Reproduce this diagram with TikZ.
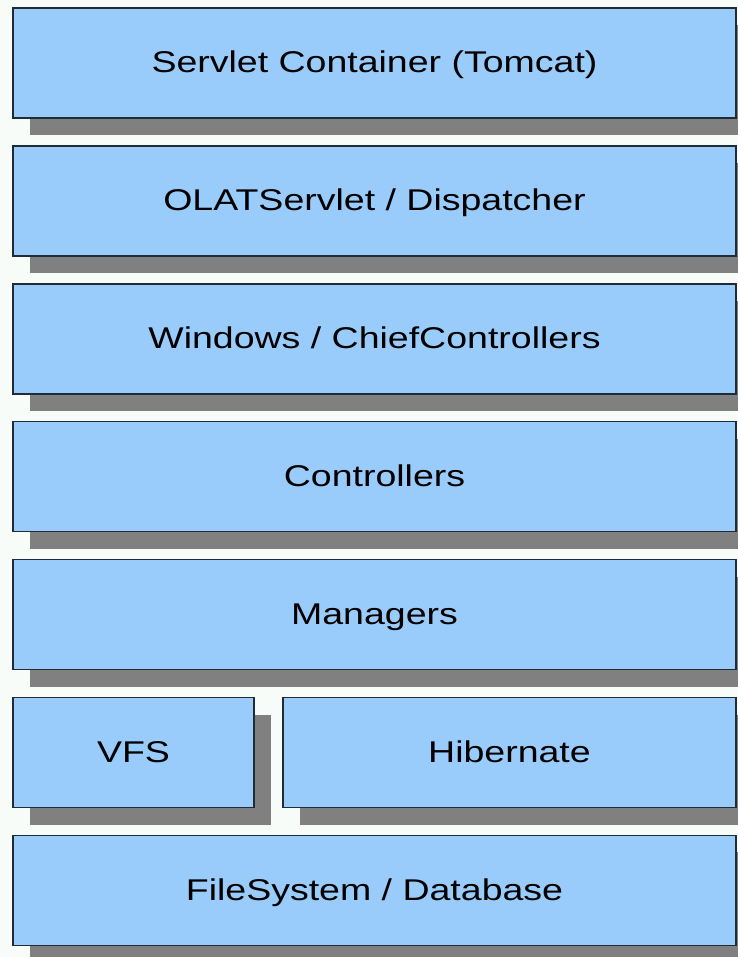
\documentclass[tikz,border=0pt]{standalone}
\usepackage{fontspec}
\setmainfont[FakeStretch=1.25]{Liberation Sans}
\usetikzlibrary{
	positioning,
	shadows,
}
\definecolor{LayerBlue}{HTML}{99CCFA}
\definecolor{LayerEdge}{HTML}{1F2B36}
\definecolor{LayerShadow}{HTML}{808080}
\definecolor{PageBack}{HTML}{F8FCF8}

\begin{document}
\begin{tikzpicture} [
			x=1pt,y=1pt,
			every node/.style={align=center,rectangle},
			layer/.style={draw=LayerEdge,line width=1.5pt,fill=LayerBlue,
				minimum height=110pt,inner sep=0pt,
				font=\fontsize{30}{30}\selectfont,text height=20pt,text depth=0pt,
				drop shadow={shadow xshift=17pt,shadow yshift=-17pt,fill=LayerShadow,opacity=1}},
			wide/.style={layer,minimum width=723pt}
		]
		\fill[PageBack] (0,0) rectangle (737,-957);

		\node [wide] (container) at (374.5,-63) {Servlet Container (Tomcat)};
		\node [wide, below=26.4pt of container] (dispatcher) {OLATServlet / Dispatcher};
		\node [wide, below=26.4pt of dispatcher] (windows) {Windows / ChiefControllers};
		\node [wide, below=26.4pt of windows] (controllers) {Controllers};
		\node [wide, below=26.4pt of controllers] (managers) {Managers};

		\node [layer, minimum width=241pt, below right=26.4pt and 0pt of managers.south west] (vfs) {VFS};
		\node [layer, minimum width=453pt, below left=26.4pt and 0pt of managers.south east] (hibernate) {Hibernate};

		\node [wide, below right=26.4pt and 0pt of vfs.south west] (storage) {FileSystem / Database};

		% shadows reach past the page edge: cut the picture back to it
		\pgfresetboundingbox
		\useasboundingbox (0,0) rectangle (737,-957);
	\end{tikzpicture}
\end{document}
